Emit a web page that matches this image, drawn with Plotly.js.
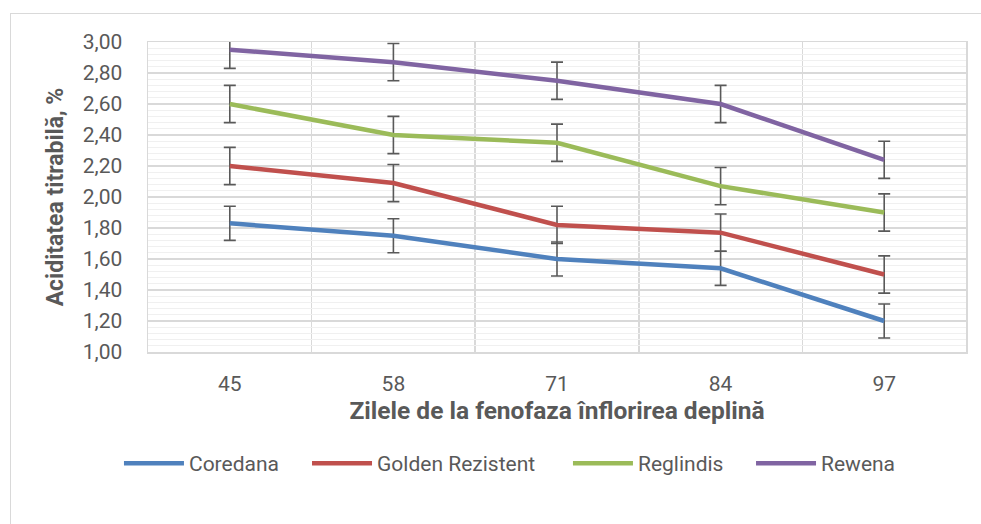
<!DOCTYPE html>
<html>
<head>
<meta charset="utf-8">
<script src="https://cdn.plot.ly/plotly-3.0.1.min.js"></script>
<style>
html,body{margin:0;padding:0;background:#fff;}
#wrap{position:relative;width:981px;height:524px;overflow:hidden;}
#chart{position:absolute;left:0;top:0;width:981px;height:524px;}
#frame{position:absolute;left:10px;top:13px;width:990px;height:540px;border-left:1.5px solid #d9d9d9;border-top:1.5px solid #d9d9d9;pointer-events:none;}
</style>
</head>
<body>
<div id="wrap"><div id="chart"></div><div id="frame"></div></div>
<script>
const categories = ["45", "58", "71", "84", "97"];
const seriesNames = ["Coredana", "Golden Rezistent", "Reglindis", "Rewena"];
const coredana = [1.83, 1.75, 1.60, 1.54, 1.20];
const goldenRezistent = [2.20, 2.09, 1.82, 1.77, 1.50];
const reglindis = [2.60, 2.40, 2.35, 2.07, 1.90];
const rewena = [2.95, 2.87, 2.75, 2.60, 2.24];
const errCoredana = [0.11, 0.11, 0.11, 0.11, 0.11];
const errGolden = [0.12, 0.12, 0.12, 0.12, 0.12];
const errReglindis = [0.12, 0.12, 0.12, 0.12, 0.12];
const errRewena = [0.12, 0.12, 0.12, 0.12, 0.12];
const yTickVals = [1.0, 1.2, 1.4, 1.6, 1.8, 2.0, 2.2, 2.4, 2.6, 2.8, 3.0];
const yTickText = ["1,00","1,20","1,40","1,60","1,80","2,00","2,20","2,40","2,60","2,80","3,00"];

const colors = ["#4F81BD", "#C0504D", "#9BBB59", "#8064A2"];
const values = [coredana, goldenRezistent, reglindis, rewena];
const errs = [errCoredana, errGolden, errReglindis, errRewena];
const xIdx = categories.map((c, i) => i);

const FONT = "Roboto, sans-serif";
const legendIds = ["legend", "legend2", "legend3", "legend4"];
const legendX = [-0.0355, 0.1944, 0.5134, 0.7372];

const traces = values.map((v, k) => ({
  type: "scatter",
  mode: "lines",
  name: seriesNames[k],
  legend: legendIds[k],
  x: xIdx,
  y: v,
  line: {color: colors[k], width: 4.5},
  error_y: {type: "data", array: errs[k], visible: true, color: "#595959", thickness: 1.6, width: 6}
}));

const layout = {
  width: 981, height: 524,
  margin: {l: 148, r: 15, t: 42, b: 172},
  paper_bgcolor: "rgba(0,0,0,0)",
  plot_bgcolor: "#fff",
  font: {family: FONT, color: "#595959", size: 21},
  showlegend: true,
  xaxis: {
    type: "linear", range: [-0.5, 4.5],
    tickvals: xIdx, ticktext: categories,
    showgrid: false, zeroline: false,
    showline: true, linecolor: "#d9d9d9", linewidth: 1.5, mirror: true,
    ticks: "", ticklabelstandoff: 12,
    tickfont: {family: FONT, size: 21, color: "#595959"},
    minor: {tick0: -0.5, dtick: 1, showgrid: true, gridcolor: "#d9d9d9", gridwidth: 1.5, ticks: ""},
    title: {text: "<b>Zilele de la fenofaza înflorirea deplină</b>", font: {family: FONT, size: 24.5, color: "#595959"}, standoff: 4}
  },
  yaxis: {
    range: [1.0, 3.0],
    tickvals: yTickVals, ticktext: yTickText,
    showgrid: true, gridcolor: "#d9d9d9", gridwidth: 1.5,
    zeroline: false,
    showline: true, linecolor: "#d9d9d9", linewidth: 1.5, mirror: true,
    ticks: "", ticklabelstandoff: 20,
    tickfont: {family: FONT, size: 21, color: "#595959"},
    minor: {dtick: 0.04, tick0: 1.0, showgrid: true, gridcolor: "#f0f0f0", gridwidth: 1, ticks: ""},
    title: {text: "<b>Aciditatea titrabilă, %</b>", font: {family: FONT, size: 23, color: "#595959"}, standoff: 12}
  }
};
legendIds.forEach((id, k) => {
  layout[id] = {
    orientation: "h", x: legendX[k], xanchor: "left", y: -0.36, yanchor: "middle",
    font: {family: FONT, size: 21, color: "#595959"},
    itemwidth: 60, bgcolor: "rgba(0,0,0,0)"
  };
});

Plotly.newPlot("chart", traces, layout, {displayModeBar: false, staticPlot: true});
</script>
</body>
</html>
